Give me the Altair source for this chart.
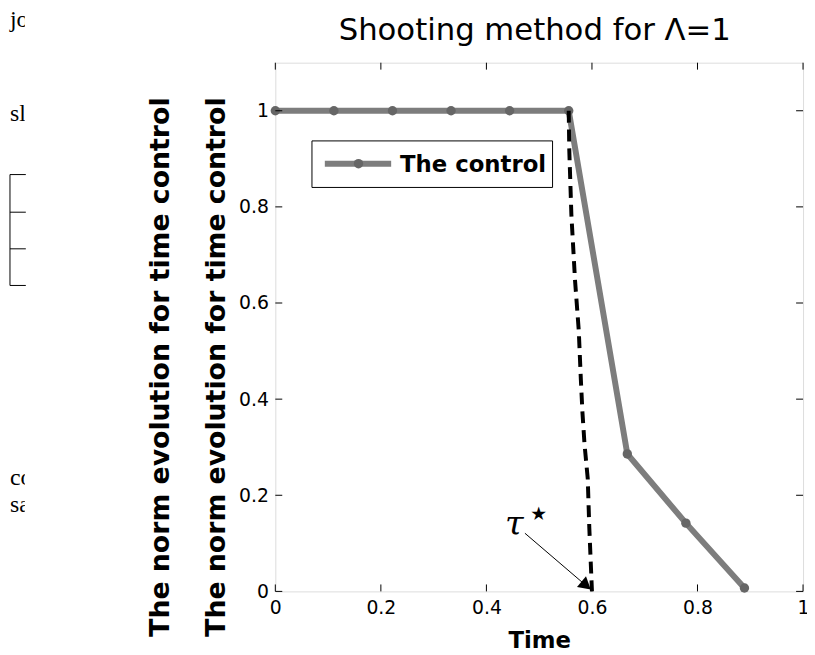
import altair as alt
import pandas as pd

# ---- data ----
t_ctrl = [0.0, 0.111, 0.222, 0.333, 0.444, 0.556, 0.667, 0.778, 0.889]
v_ctrl = [1.0, 1.0, 1.0, 1.0, 1.0, 1.0, 0.286, 0.142, 0.007]

t_dash = [0.556, 0.557, 0.561, 0.568, 0.575, 0.579, 0.582, 0.586, 0.592, 0.595, 0.600]
v_dash = [1.0, 0.92, 0.784, 0.646, 0.543, 0.44, 0.372, 0.305, 0.235, 0.132, 0.0]

x_ticks = [0, 0.2, 0.4, 0.6, 0.8, 1.0]
y_ticks = [0, 0.2, 0.4, 0.6, 0.8, 1.0]

legend_labels = ["The control"]
title_text = ["Shooting method for Λ=1"]
x_title = "Time"
y_title = "The norm evolution for time control"

# annotation (tau star with arrow)
arrow_t = [0.473]
arrow_v = [0.121]
arrow_t2 = [0.589]
arrow_v2 = [0.012]
tau_t = [0.453]
tau_v = [0.117]
star_t = [0.499]
star_v = [0.160]

# clipped page fragments on the left edge
frag_text = ["jo", "sl", "co", "sa"]

W, H = 533, 534
GRAY = "#7d7d7d"

df_ctrl = pd.DataFrame({"t": t_ctrl, "v": v_ctrl})
df_dash = pd.DataFrame({"t": t_dash, "v": v_dash})
df_xt = pd.DataFrame({"t": x_ticks})
df_yt = pd.DataFrame({"v": y_ticks})

xs = alt.Scale(domain=[0, 1], nice=False, zero=False)
ys = alt.Scale(domain=[0, 1.1], nice=False, zero=False)

x_enc = alt.X("t:Q", scale=xs, axis=alt.Axis(
    values=x_ticks, format="~g", title=x_title, grid=False, domain=False,
    tickSize=0, labelPadding=7, labelFont="DejaVu Sans", labelFontSize=19,
    labelColor="black", titleFont="DejaVu Sans", titleFontSize=23,
    titleFontWeight="bold", titleColor="black", titlePadding=13,
    labelFlush=False))
y_enc = alt.Y("v:Q", scale=ys, axis=alt.Axis(
    values=y_ticks, format="~g", title=[y_title, y_title], grid=False,
    domain=False, tickSize=0, labelPadding=7, labelFont="DejaVu Sans",
    labelFontSize=19, labelColor="black", titleFont="DejaVu Sans",
    titleFontSize=27, titleFontWeight="bold", titleColor="black",
    titleAngle=270, titleBaseline="bottom", titleAlign="center",
    titleLineHeight=57, titleX=-102, titleY=307, labelFlush=False))

base = alt.Chart(df_ctrl)

ctrl_line = base.mark_line(color=GRAY, strokeWidth=6).encode(x=x_enc, y=y_enc)
ctrl_pts = base.mark_point(shape="circle", filled=True, color="#666666",
                           size=90, opacity=1).encode(x=x_enc, y=y_enc)
dash_line = alt.Chart(df_dash).mark_line(
    color="black", strokeWidth=4, strokeDash=[12, 7]).encode(x=x_enc, y=y_enc)

tick_b = alt.Chart(df_xt).mark_rule(color="black").encode(
    x=x_enc, y=alt.value(H), y2=alt.value(H - 7))
tick_t = alt.Chart(df_xt).mark_rule(color="black").encode(
    x=x_enc, y=alt.value(0), y2=alt.value(7))
tick_l = alt.Chart(df_yt).mark_rule(color="black").encode(
    y=y_enc, x=alt.value(0), x2=alt.value(7))
tick_r = alt.Chart(df_yt).mark_rule(color="black").encode(
    y=y_enc, x=alt.value(W), x2=alt.value(W - 7))

# legend box (drawn by hand, MATLAB style)
df_leg = pd.DataFrame({"label": legend_labels})
leg_box = alt.Chart(df_leg).mark_rect(fill="white", stroke="black",
                                      strokeWidth=1).encode(
    x=alt.value(37), x2=alt.value(280), y=alt.value(79), y2=alt.value(126))
leg_line = alt.Chart(df_leg).mark_rule(color=GRAY, strokeWidth=6).encode(
    x=alt.value(50), x2=alt.value(117), y=alt.value(102))
leg_pt = alt.Chart(df_leg).mark_point(shape="circle", filled=True,
                                      color="#666666", size=90,
                                      opacity=1).encode(
    x=alt.value(84), y=alt.value(102))
leg_txt = alt.Chart(df_leg).mark_text(
    font="DejaVu Sans", fontSize=23, fontWeight="bold", color="black",
    align="left", baseline="middle").encode(
    x=alt.value(126), y=alt.value(103), text="label:N")

# chart title drawn as text so that it keeps its place
df_title = pd.DataFrame({"s": title_text})
title_mark = alt.Chart(df_title).mark_text(
    font="DejaVu Sans", fontSize=31, color="black", align="center",
    baseline="alphabetic").encode(x=alt.value(262), y=alt.value(-23),
                                  text="s:N")

# annotation arrow + tau*
df_arrow = pd.DataFrame({"t": arrow_t, "v": arrow_v, "t2": arrow_t2,
                         "v2": arrow_v2})
arrow = alt.Chart(df_arrow).mark_rule(color="black", strokeWidth=1).encode(
    x=x_enc, y=y_enc, x2="t2:Q", y2="v2:Q")
arrow_head = alt.Chart(pd.DataFrame({"t": arrow_t2, "v": arrow_v2})).mark_point(
    shape="triangle-right", filled=True, color="black", size=200, angle=40,
    opacity=1).encode(x=x_enc, y=y_enc)
tau = alt.Chart(pd.DataFrame({"t": tau_t, "v": tau_v, "s": ["τ"]})).mark_text(
    font="DejaVu Serif", fontStyle="italic", fontSize=34, color="black",
    align="center", baseline="alphabetic").encode(x=x_enc, y=y_enc, text="s:N")
star = alt.Chart(pd.DataFrame({"t": star_t, "v": star_v, "s": ["★"]})).mark_text(
    font="DejaVu Sans", fontSize=19, color="black", align="center",
    baseline="middle").encode(x=x_enc, y=y_enc, text="s:N")

# clipped page fragments at the far left
df_frag = pd.DataFrame({"s": frag_text, "yy": [-43, 52, 420, 447]})
frag = alt.Chart(df_frag).mark_text(
    font="Liberation Serif", fontSize=24, color="black", align="left",
    baseline="middle").encode(x=alt.value(-268), y=alt.Y("yy:Q", scale=None),
                              text="s:N")
df_br = pd.DataFrame({"yy": [113, 151, 188, 225]})
brack_h = alt.Chart(df_br).mark_rule(color="black").encode(
    x=alt.value(-268), x2=alt.value(-252), y=alt.Y("yy:Q", scale=None))
brack_v = alt.Chart(df_leg).mark_rule(color="black").encode(
    x=alt.value(-268), y=alt.value(113), y2=alt.value(225))
mask = alt.Chart(df_leg).mark_rect(fill="white").encode(
    x=alt.value(-253), x2=alt.value(-150), y=alt.value(-60), y2=alt.value(480))

chart = alt.layer(
    ctrl_line, ctrl_pts, dash_line, tick_b, tick_t, tick_l, tick_r,
    leg_box, leg_line, leg_pt, leg_txt, title_mark, arrow, arrow_head, tau,
    star, frag, mask, brack_h, brack_v
).properties(
    width=W, height=H,
    autosize=alt.AutoSizeParams(type="none"),
    padding={"left": 270, "top": 52, "right": 4, "bottom": 61},
).configure_view(stroke="black", strokeWidth=1).configure(background="white")

chart.save("out.html", embed_options={"renderer": "svg", "actions": False})
